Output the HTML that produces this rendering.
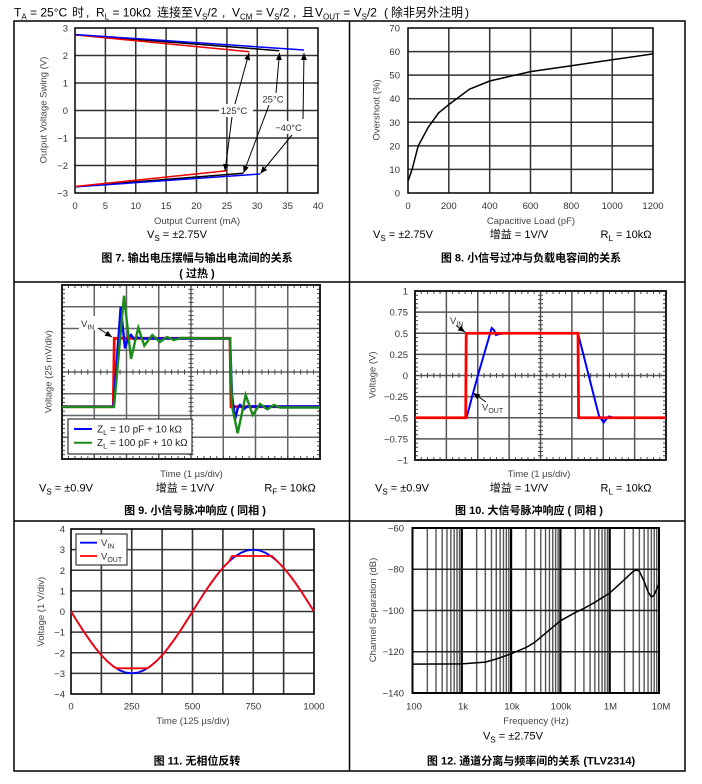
<!DOCTYPE html>
<html><head><meta charset="utf-8"><style>
html,body{margin:0;padding:0;background:#fff;}
svg{display:block;}
text{font-family:"Liberation Sans","Noto Sans CJK SC",sans-serif;}
.tk{font-size:9.5px;fill:#333;}
.ax{font-size:9.5px;fill:#444;}
.inf{font-size:11px;fill:#000;}
.cap{font-size:11px;font-weight:bold;fill:#000;}
.hd{font-size:12px;fill:#000;}
</style></head><body>
<svg width="702" height="784" viewBox="0 0 702 784" xmlns="http://www.w3.org/2000/svg">
<defs>
<marker id="ah" markerWidth="7" markerHeight="6" refX="7" refY="3" orient="auto" markerUnits="userSpaceOnUse"><path d="M0,0 L7,3 L0,6z" fill="#000"/></marker>
<pattern id="t3x" patternUnits="userSpaceOnUse" x="61.5" y="0" width="6.45" height="20"><rect width="1" height="20" fill="#444"/></pattern>
<pattern id="t3y" patternUnits="userSpaceOnUse" x="0" y="284.5" width="20" height="4.35"><rect width="20" height="1" fill="#444"/></pattern>
<pattern id="t4x" patternUnits="userSpaceOnUse" x="414.5" y="0" width="6.275" height="20"><rect width="1" height="20" fill="#444"/></pattern>
<pattern id="t4y" patternUnits="userSpaceOnUse" x="0" y="290.5" width="20" height="4.225"><rect width="20" height="1" fill="#444"/></pattern>
</defs>
<rect width="702" height="784" fill="#fff"/>

<!-- header -->
<text class="hd" y="16.7"><tspan x="14">T</tspan><tspan font-size="8" dy="3">A</tspan><tspan dy="-3"> = 25°C</tspan></text>
<text class="hd" x="72" y="16.7">时</text>
<text class="hd" x="86" y="16.7">,</text>
<text class="hd" y="16.7"><tspan x="96">R</tspan><tspan font-size="8" dy="3">L</tspan><tspan dy="-3"> = 10kΩ</tspan></text>
<text class="hd" x="157" y="16.7">连接至</text>
<text class="hd" y="16.7"><tspan x="194">V</tspan><tspan font-size="8" dy="3">S</tspan><tspan dy="-3">/2</tspan></text>
<text class="hd" x="222" y="16.7">,</text>
<text class="hd" y="16.7"><tspan x="232">V</tspan><tspan font-size="8" dy="3">CM</tspan><tspan dy="-3"> = V</tspan><tspan font-size="8" dy="3">S</tspan><tspan dy="-3">/2</tspan></text>
<text class="hd" x="293" y="16.7">,</text>
<text class="hd" x="302" y="16.7">且</text>
<text class="hd" y="16.7"><tspan x="315">V</tspan><tspan font-size="8" dy="3">OUT</tspan><tspan dy="-3"> = V</tspan><tspan font-size="8" dy="3">S</tspan><tspan dy="-3">/2</tspan></text>
<text class="hd" x="384" y="16.7">(</text>
<text class="hd" x="391" y="16.7">除非另外注明</text>
<text class="hd" x="465" y="16.7">)</text>

<!-- panel frame -->
<rect x="14" y="21" width="671" height="750" fill="none" stroke="#000" stroke-width="1.5"/>
<path d="M349.5,21V771 M14,282H685 M14,521H685" stroke="#000" stroke-width="1.5"/>

<!-- ============ Chart 1 ============ -->
<path d="M105.4,28V193 M135.75,28V193 M166.1,28V193 M196.5,28V193 M226.9,28V193 M257.25,28V193 M287.6,28V193 M75,55.5H318 M75,83H318 M75,110.5H318 M75,138H318 M75,165.5H318" stroke="#333" stroke-width="1.5" fill="none"/>
<rect x="75" y="28" width="243" height="165" fill="none" stroke="#000" stroke-width="1.5"/>
<g class="tk" text-anchor="end">
<text x="68" y="31.5">3</text><text x="68" y="59">2</text><text x="68" y="86.5">1</text><text x="68" y="114">0</text>
<text x="68" y="141.5">−1</text><text x="68" y="169">−2</text><text x="68" y="196.5">−3</text>
</g>
<g class="tk" text-anchor="middle">
<text x="75" y="209">0</text><text x="105.4" y="209">5</text><text x="135.75" y="209">10</text><text x="166.1" y="209">15</text><text x="196.5" y="209">20</text><text x="226.9" y="209">25</text><text x="257.25" y="209">30</text><text x="287.6" y="209">35</text><text x="318" y="209">40</text>
</g>
<text class="ax" text-anchor="middle" x="197" y="224">Output Current (mA)</text>
<text class="ax" text-anchor="middle" transform="translate(46.5,110) rotate(-90)">Output Voltage Swing (V)</text>
<path d="M75,34.7 L279.3,50.7" stroke="#000" stroke-width="1.5"/>
<path d="M75,34.9 L249.3,51.7" stroke="#e00" stroke-width="1.5"/>
<path d="M75,34.5 L304,50" stroke="#00f" stroke-width="1.5"/>
<path d="M75,186.7 L243.3,173.3" stroke="#000" stroke-width="1.5"/>
<path d="M75,186.9 L260,174" stroke="#00f" stroke-width="1.5"/>
<path d="M75,186.5 L226.7,170.7" stroke="#e00" stroke-width="1.5"/>
<rect x="219" y="104" width="34" height="13" fill="#fff"/>
<rect x="262" y="93" width="22" height="12" fill="#fff"/>
<rect x="274" y="121" width="29" height="13" fill="#fff"/>
<g stroke="#000" stroke-width="1" marker-end="url(#ah)">
<line x1="235" y1="104" x2="249" y2="53"/>
<line x1="232" y1="117" x2="225" y2="171"/>
<line x1="276" y1="93" x2="279.5" y2="53"/>
<line x1="269" y1="105" x2="243.5" y2="173"/>
<line x1="303" y1="119" x2="304" y2="53"/>
<line x1="292" y1="135" x2="260.5" y2="173.5"/>
</g>
<g class="tk" text-anchor="middle">
<text x="234" y="114">125°C</text>
<text x="273" y="102.5">25°C</text>
<text x="288.5" y="131">−40°C</text>
</g>
<text class="inf" text-anchor="middle" y="238"><tspan x="177">V</tspan><tspan font-size="8" dy="3">S</tspan><tspan dy="-3"> = ±2.75V</tspan></text>
<text class="cap" text-anchor="middle" x="197" y="261.5">图 7. 输出电压摆幅与输出电流间的关系</text>
<text class="cap" text-anchor="middle" x="197" y="277">( 过热 )</text>

<!-- ============ Chart 2 ============ -->
<path d="M448.8,28V193 M489.7,28V193 M530.5,28V193 M571.3,28V193 M612.2,28V193 M408,51.57H653 M408,75.14H653 M408,98.71H653 M408,122.29H653 M408,145.86H653 M408,169.43H653" stroke="#333" stroke-width="1.5" fill="none"/>
<rect x="408" y="28" width="245" height="165" fill="none" stroke="#000" stroke-width="1.5"/>
<g class="tk" text-anchor="end">
<text x="400" y="31.5">70</text><text x="400" y="55">60</text><text x="400" y="78.6">50</text><text x="400" y="102.2">40</text><text x="400" y="125.8">30</text><text x="400" y="149.4">20</text><text x="400" y="172.9">10</text><text x="400" y="196.5">0</text>
</g>
<g class="tk" text-anchor="middle">
<text x="408" y="209">0</text><text x="448.8" y="209">200</text><text x="489.7" y="209">400</text><text x="530.5" y="209">600</text><text x="571.3" y="209">800</text><text x="612.2" y="209">1000</text><text x="653" y="209">1200</text>
</g>
<text class="ax" text-anchor="middle" x="531" y="224">Capacitive Load (pF)</text>
<text class="ax" text-anchor="middle" transform="translate(379.5,110) rotate(-90)">Overshoot (%)</text>
<polyline points="408,181.2 412.1,169.4 418.2,145.9 428.4,127 438.6,112.9 448.8,104.6 469.3,89.3 489.7,81 510.1,76.3 530.5,71.6 571.3,65.7 612.2,59.8 653,53.9" fill="none" stroke="#000" stroke-width="1.5"/>
<text class="inf" text-anchor="middle" y="238"><tspan x="403">V</tspan><tspan font-size="8" dy="3">S</tspan><tspan dy="-3"> = ±2.75V</tspan></text>
<text class="inf" text-anchor="middle" x="519" y="238">增益 = 1V/V</text>
<text class="inf" text-anchor="middle" y="238"><tspan x="626">R</tspan><tspan font-size="8" dy="3">L</tspan><tspan dy="-3"> = 10kΩ</tspan></text>
<text class="cap" text-anchor="middle" x="531" y="261.5">图 8. 小信号过冲与负载电容间的关系</text>

<!-- ============ Chart 3 ============ -->
<path d="M94.25,285V459 M126.5,285V459 M158.75,285V459 M191,285V459 M223.25,285V459 M255.5,285V459 M287.75,285V459 M62,306.75H320 M62,328.5H320 M62,350.25H320 M62,372H320 M62,393.75H320 M62,415.5H320 M62,437.25H320" stroke="#666" stroke-width="1.5" fill="none"/>
<rect x="62" y="285" width="258" height="3" fill="url(#t3x)"/>
<rect x="62" y="456" width="258" height="3" fill="url(#t3x)"/>
<rect x="62" y="369.5" width="258" height="5" fill="url(#t3x)"/>
<rect x="62" y="285" width="3" height="174" fill="url(#t3y)"/>
<rect x="317" y="285" width="3" height="174" fill="url(#t3y)"/>
<rect x="188.5" y="285" width="5" height="174" fill="url(#t3y)"/>
<rect x="62" y="285" width="258" height="174" fill="none" stroke="#222" stroke-width="2"/>
<path d="M62,406.7 H113.3 L114.3,338.3 H230 L231,406.7 H320" fill="none" stroke="#f00" stroke-width="2.8"/>
<path d="M62,406.7 H113.5 L120.7,307 L125,348.3 L128,338 L131,335 L134,339 L137,337.5 L142,338.5 H230 L232,395 L235,419.3 L238,407 L240,405 L244,409 L247,406.5 H320" fill="none" stroke="#00f" stroke-width="2.4"/>
<path d="M62,406.9 H114 L124,295.7 L131,359 L138.3,327.7 L144.3,345.7 L152.3,335 L160,342 L167,337 L174,340 L181,338 L230,338.5 L232,406 L237.7,433.3 L245.7,395 L252.7,415 L260,404 L267.3,409.3 L274,405 L280,407.5 H320" fill="none" stroke="#1a8a1a" stroke-width="2.4"/>
<rect x="68" y="419" width="124" height="35" fill="#fff" stroke="#333" stroke-width="1.2"/>
<line x1="74" y1="429" x2="92" y2="429" stroke="#00f" stroke-width="2"/>
<line x1="74" y1="442.7" x2="92" y2="442.7" stroke="#1a8a1a" stroke-width="2"/>
<text font-size="10" fill="#222" y="432.5"><tspan x="97">Z</tspan><tspan font-size="7.5" dy="2.5">L</tspan><tspan dy="-2.5"> = 10 pF + 10 kΩ</tspan></text>
<text font-size="10" fill="#222" y="446.2"><tspan x="97">Z</tspan><tspan font-size="7.5" dy="2.5">L</tspan><tspan dy="-2.5"> = 100 pF + 10 kΩ</tspan></text>
<rect x="79" y="316" width="20" height="14" fill="#fff"/>
<text class="tk" y="327"><tspan x="81">V</tspan><tspan font-size="7" dy="2.5">IN</tspan></text>
<line x1="98" y1="328" x2="112" y2="337" stroke="#000" stroke-width="1" marker-end="url(#ah)"/>
<text class="ax" text-anchor="middle" x="191.5" y="477">Time (1 µs/div)</text>
<text class="ax" text-anchor="middle" transform="translate(51.5,371.7) rotate(-90)">Voltage (25 mV/div)</text>
<text class="inf" text-anchor="middle" y="491.5"><tspan x="66">V</tspan><tspan font-size="8" dy="3">S</tspan><tspan dy="-3"> = ±0.9V</tspan></text>
<text class="inf" text-anchor="middle" x="185" y="491.5">增益 = 1V/V</text>
<text class="inf" text-anchor="middle" y="491.5"><tspan x="290">R</tspan><tspan font-size="8" dy="3">F</tspan><tspan dy="-3"> = 10kΩ</tspan></text>
<text class="cap" text-anchor="middle" x="195" y="514">图 9. 小信号脉冲响应 ( 同相 )</text>

<!-- ============ Chart 4 ============ -->
<path d="M446.375,291V460 M477.75,291V460 M509.125,291V460 M540.5,291V460 M571.875,291V460 M603.25,291V460 M634.625,291V460 M415,312.125H666 M415,333.25H666 M415,354.375H666 M415,375.5H666 M415,396.625H666 M415,417.75H666 M415,438.875H666" stroke="#555" stroke-width="1.5" fill="none"/>
<rect x="415" y="291" width="251" height="3" fill="url(#t4x)"/>
<rect x="415" y="457" width="251" height="3" fill="url(#t4x)"/>
<rect x="415" y="373" width="251" height="5" fill="url(#t4x)"/>
<rect x="415" y="291" width="3" height="169" fill="url(#t4y)"/>
<rect x="663" y="291" width="3" height="169" fill="url(#t4y)"/>
<rect x="538" y="291" width="5" height="169" fill="url(#t4y)"/>
<rect x="415" y="291" width="251" height="169" fill="none" stroke="#222" stroke-width="2"/>
<g class="tk" text-anchor="end">
<text x="408" y="294.5">1</text><text x="408" y="315.6">0.75</text><text x="408" y="336.8">0.5</text><text x="408" y="357.9">0.25</text><text x="408" y="379">0</text><text x="408" y="400.1">−0.25</text><text x="408" y="421.3">−0.5</text><text x="408" y="442.4">−0.75</text><text x="408" y="463.5">−1</text>
</g>
<path d="M415,417.5 H466.7 L471.7,398 L478.3,374 L491.7,328 L494,330 L496,335 L499,334 L504,333.5 H578 L599,416 L603.7,422.5 L607,418 L609,416.5 L613,417.5 H666" fill="none" stroke="#00f" stroke-width="2"/>
<path d="M415,417.75 H465.7 L466.2,333.25 H578 L578.6,417.75 H666" fill="none" stroke="#f00" stroke-width="2.8"/>
<text class="tk" y="324"><tspan x="450">V</tspan><tspan font-size="7" dy="2.5">IN</tspan></text>
<line x1="456" y1="325.5" x2="465" y2="332" stroke="#000" stroke-width="1" marker-end="url(#ah)"/>
<text class="tk" y="410.5"><tspan x="482">V</tspan><tspan font-size="7" dy="2.5">OUT</tspan></text>
<line x1="486" y1="402" x2="473" y2="393" stroke="#000" stroke-width="1" marker-end="url(#ah)"/>
<text class="ax" text-anchor="middle" x="539" y="477">Time (1 µs/div)</text>
<text class="ax" text-anchor="middle" transform="translate(375.5,375) rotate(-90)">Voltage (V)</text>
<text class="inf" text-anchor="middle" y="491.5"><tspan x="402">V</tspan><tspan font-size="8" dy="3">S</tspan><tspan dy="-3"> = ±0.9V</tspan></text>
<text class="inf" text-anchor="middle" x="519" y="491.5">增益 = 1V/V</text>
<text class="inf" text-anchor="middle" y="491.5"><tspan x="626">R</tspan><tspan font-size="8" dy="3">L</tspan><tspan dy="-3"> = 10kΩ</tspan></text>
<text class="cap" text-anchor="middle" x="529" y="514">图 10. 大信号脉冲响应 ( 同相 )</text>

<!-- ============ Chart 5 ============ -->
<path d="M101.375,529V694 M131.75,529V694 M162.125,529V694 M192.5,529V694 M222.875,529V694 M253.25,529V694 M283.625,529V694 M71,549.625H314 M71,570.25H314 M71,590.875H314 M71,611.5H314 M71,632.125H314 M71,652.75H314 M71,673.375H314" stroke="#333" stroke-width="1.6" fill="none"/>
<rect x="71" y="529" width="243" height="165" fill="none" stroke="#000" stroke-width="1.6"/>
<g class="tk" text-anchor="end">
<text x="65" y="532.5">4</text><text x="65" y="553.1">3</text><text x="65" y="573.8">2</text><text x="65" y="594.4">1</text><text x="65" y="615">0</text><text x="65" y="635.6">−1</text><text x="65" y="656.3">−2</text><text x="65" y="676.9">−3</text><text x="65" y="697.5">−4</text>
</g>
<g class="tk" text-anchor="middle">
<text x="71" y="709.5">0</text><text x="131.75" y="709.5">250</text><text x="192.5" y="709.5">500</text><text x="253.25" y="709.5">750</text><text x="314" y="709.5">1000</text>
</g>
<polyline fill="none" stroke="#00f" stroke-width="1.8" points="71,611.5 77.08,621.17 83.15,630.6 89.23,639.56 95.3,647.83 101.38,655.2 107.45,661.5 113.53,666.56 119.6,670.28 125.68,672.54 131.75,673.3 137.83,672.54 143.9,670.28 149.98,666.56 156.05,661.5 162.13,655.2 168.2,647.83 174.28,639.56 180.35,630.6 186.43,621.17 192.5,611.5 198.58,601.83 204.65,592.4 210.73,583.44 216.8,575.17 222.88,567.8 228.95,561.5 235.03,556.44 241.1,552.72 247.18,550.46 253.25,549.7 259.33,550.46 265.4,552.72 271.48,556.44 277.55,561.5 283.63,567.8 289.7,575.17 295.78,583.44 301.85,592.4 307.93,601.83 314,611.5"/>
<polyline fill="none" stroke="#f00" stroke-width="1.8" points="71,611.5 77.08,621.17 83.15,630.6 89.23,639.56 95.3,647.83 101.38,655.2 107.45,661.5 113.53,666.56 116.4,668.3 147.1,668.3 149.98,666.56 156.05,661.5 162.13,655.2 168.2,647.83 174.28,639.56 180.35,630.6 186.43,621.17 192.5,611.5 198.58,601.83 204.65,592.4 210.73,583.44 216.8,575.17 222.88,567.8 228.95,561.5 232,556 272,556 277.55,561.5 283.63,567.8 289.7,575.17 295.78,583.44 301.85,592.4 307.93,601.83 314,611.5"/>
<rect x="76" y="534" width="51" height="31" fill="#fff" stroke="#444" stroke-width="1.3"/>
<line x1="80" y1="542.7" x2="97" y2="542.7" stroke="#00f" stroke-width="1.8"/>
<line x1="80" y1="556" x2="97" y2="556" stroke="#f00" stroke-width="1.8"/>
<text class="tk" y="546"><tspan x="101">V</tspan><tspan font-size="7" dy="2.5">IN</tspan></text>
<text class="tk" y="559.5"><tspan x="101">V</tspan><tspan font-size="7" dy="2.5">OUT</tspan></text>
<text class="ax" text-anchor="middle" x="193" y="724">Time (125 µs/div)</text>
<text class="ax" text-anchor="middle" transform="translate(44.2,611.7) rotate(-90)">Voltage (1 V/div)</text>
<text class="cap" text-anchor="middle" x="197" y="764.5">图 11. 无相位反转</text>

<!-- ============ Chart 6 ============ -->
<path d="M427.34,528V693 M436.02,528V693 M442.18,528V693 M446.96,528V693 M450.86,528V693 M454.16,528V693 M457.02,528V693 M459.53,528V693
M476.64,528V693 M485.32,528V693 M491.48,528V693 M496.26,528V693 M500.16,528V693 M503.46,528V693 M506.32,528V693 M508.83,528V693
M525.94,528V693 M534.62,528V693 M540.78,528V693 M545.56,528V693 M549.46,528V693 M552.76,528V693 M555.62,528V693 M558.13,528V693
M575.24,528V693 M583.92,528V693 M590.08,528V693 M594.86,528V693 M598.76,528V693 M602.06,528V693 M604.92,528V693 M607.43,528V693
M624.54,528V693 M633.22,528V693 M639.38,528V693 M644.16,528V693 M648.06,528V693 M651.36,528V693 M654.22,528V693 M656.73,528V693" stroke="#555" stroke-width="1.4" fill="none"/>
<path d="M461.8,528V693 M511.1,528V693 M560.4,528V693 M609.7,528V693" stroke="#000" stroke-width="2.2" fill="none"/>
<path d="M412.5,569.25H659 M412.5,610.5H659 M412.5,651.75H659" stroke="#222" stroke-width="1.5" fill="none"/>
<rect x="412.5" y="528" width="246.5" height="165" fill="none" stroke="#000" stroke-width="2"/>
<g class="tk" text-anchor="end">
<text x="404" y="531.5">−60</text><text x="404" y="572.7">−80</text><text x="404" y="614">−100</text><text x="404" y="655.2">−120</text><text x="404" y="696.5">−140</text>
</g>
<g class="tk" text-anchor="middle">
<text x="414" y="709.5">100</text><text x="463" y="709.5">1k</text><text x="512" y="709.5">10k</text><text x="561" y="709.5">100k</text><text x="610.5" y="709.5">1M</text><text x="661" y="709.5">10M</text>
</g>
<polyline fill="none" stroke="#000" stroke-width="1.5" points="412.5,664.1 461.8,663.9 485.3,662.1 496.3,659 511.1,653.8 525.9,647.6 534.6,642.4 545.6,633.2 560.4,620.8 575.2,612.6 583.9,608.4 594.9,602.3 609.7,593 624.5,579.6 633.2,571.3 636.6,569.9 639.4,571.3 644.2,581.6 648.1,591.9 651.4,597 654.2,595 659,583.7"/>
<text class="ax" text-anchor="middle" x="536" y="724">Frequency (Hz)</text>
<text class="ax" text-anchor="middle" transform="translate(376.2,610) rotate(-90)">Channel Separation (dB)</text>
<text class="inf" text-anchor="middle" y="739.5"><tspan x="513">V</tspan><tspan font-size="8" dy="3">S</tspan><tspan dy="-3"> = ±2.75V</tspan></text>
<text class="cap" text-anchor="middle" x="531" y="764.5">图 12. 通道分离与频率间的关系 (TLV2314)</text>
</svg>
</body></html>
